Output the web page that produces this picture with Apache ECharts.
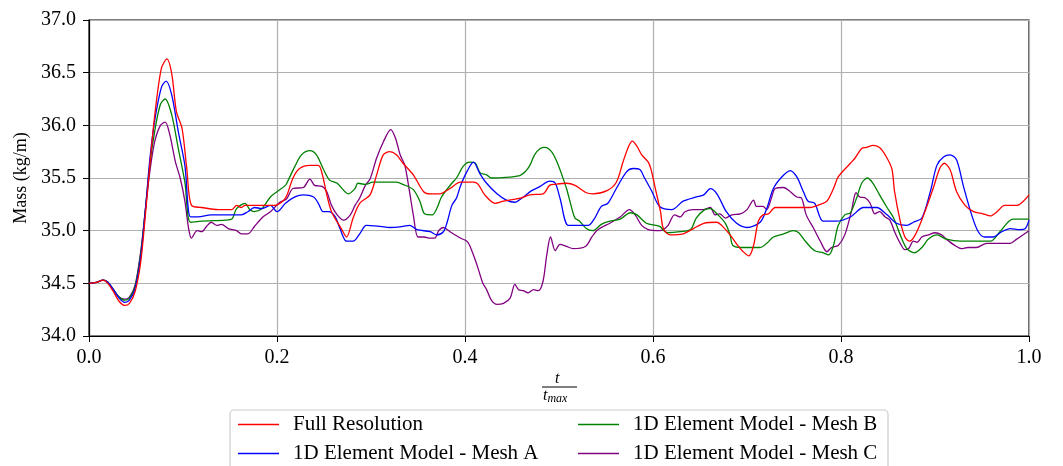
<!DOCTYPE html>
<html>
<head>
<meta charset="utf-8">
<script src="https://cdn.jsdelivr.net/npm/echarts@6/dist/echarts.min.js"></script>
<style>
  html, body { margin: 0; padding: 0; background: #fff; }
  #chart { width: 1063px; height: 466px; }
</style>
</head>
<body>
<div id="chart"></div>
<script>
// 数据: [t/tmax, mass]
var fullResolution = [
  [0,34.50],[0.008,34.51],[0.015,34.53],[0.020,34.50],[0.026,34.42],[0.032,34.33],[0.038,34.29],[0.043,34.31],
  [0.049,34.42],[0.055,34.70],[0.060,35.15],[0.065,35.65],[0.070,36.10],[0.077,36.54],[0.083,36.63],[0.088,36.49],
  [0.093,36.13],[0.099,35.97],[0.104,35.59],[0.109,35.24],[0.120,35.22],[0.138,35.20],[0.152,35.20],[0.157,35.24],
  [0.162,35.22],[0.166,35.24],[0.198,35.24],[0.209,35.31],[0.217,35.50],[0.224,35.59],[0.235,35.62],[0.244,35.62],
  [0.248,35.54],[0.253,35.34],[0.258,35.18],[0.269,35.01],[0.274,34.94],[0.281,35.12],[0.288,35.26],[0.299,35.34],
  [0.306,35.53],[0.313,35.72],[0.320,35.75],[0.327,35.72],[0.334,35.64],[0.345,35.53],[0.356,35.37],[0.363,35.35],
  [0.373,35.35],[0.384,35.40],[0.395,35.46],[0.409,35.46],[0.414,35.44],[0.421,35.34],[0.432,35.26],[0.441,35.28],
  [0.459,35.31],[0.469,35.34],[0.483,35.35],[0.490,35.43],[0.496,35.44],[0.508,35.45],[0.517,35.43],[0.529,35.36],
  [0.536,35.35],[0.551,35.38],[0.561,35.46],[0.568,35.65],[0.574,35.80],[0.578,35.85],[0.583,35.80],[0.588,35.72],
  [0.595,35.65],[0.598,35.58],[0.603,35.38],[0.608,35.18],[0.611,35.02],[0.618,34.96],[0.632,34.97],[0.643,35.02],
  [0.654,35.07],[0.668,35.08],[0.673,35.05],[0.682,34.96],[0.691,34.85],[0.696,34.80],[0.702,34.76],[0.707,34.86],
  [0.712,35.09],[0.717,35.15],[0.723,35.16],[0.730,35.22],[0.746,35.22],[0.767,35.22],[0.778,35.25],[0.785,35.28],
  [0.792,35.40],[0.797,35.51],[0.810,35.64],[0.815,35.69],[0.822,35.78],[0.827,35.79],[0.834,35.81],[0.841,35.79],
  [0.847,35.72],[0.854,35.59],[0.857,35.37],[0.863,35.09],[0.868,34.94],[0.873,34.90],[0.879,34.96],[0.888,35.15],
  [0.898,35.40],[0.905,35.59],[0.910,35.64],[0.916,35.58],[0.923,35.37],[0.932,35.24],[0.941,35.18],[0.951,35.16],
  [0.959,35.14],[0.966,35.18],[0.974,35.24],[0.987,35.24],[0.994,35.28],[1.0,35.34]
];
var meshA = [
  [0,34.50],[0.008,34.51],[0.015,34.53],[0.020,34.51],[0.026,34.44],[0.032,34.36],[0.038,34.32],[0.043,34.34],
  [0.049,34.45],[0.055,34.75],[0.060,35.20],[0.065,35.70],[0.070,36.05],[0.077,36.36],[0.082,36.42],[0.088,36.29],
  [0.095,35.94],[0.102,35.62],[0.108,35.13],[0.116,35.13],[0.130,35.15],[0.162,35.15],[0.169,35.18],[0.176,35.22],
  [0.184,35.21],[0.193,35.24],[0.200,35.18],[0.209,35.26],[0.219,35.32],[0.228,35.34],[0.239,35.32],[0.244,35.26],
  [0.249,35.18],[0.255,35.18],[0.262,35.13],[0.267,35.02],[0.274,34.90],[0.281,34.90],[0.288,34.97],[0.295,35.05],
  [0.310,35.04],[0.320,35.03],[0.334,35.04],[0.341,35.05],[0.349,35.01],[0.363,34.99],[0.370,34.96],[0.377,34.99],
  [0.381,35.08],[0.386,35.24],[0.391,35.31],[0.395,35.42],[0.402,35.56],[0.409,35.65],[0.416,35.54],[0.423,35.45],
  [0.434,35.35],[0.444,35.29],[0.453,35.27],[0.462,35.32],[0.471,35.38],[0.480,35.42],[0.490,35.47],[0.496,35.45],
  [0.501,35.31],[0.510,35.05],[0.522,35.05],[0.531,35.05],[0.538,35.12],[0.545,35.23],[0.552,35.26],[0.561,35.40],
  [0.572,35.56],[0.579,35.59],[0.586,35.58],[0.591,35.50],[0.599,35.37],[0.607,35.23],[0.620,35.20],[0.632,35.28],
  [0.646,35.32],[0.654,35.34],[0.661,35.40],[0.668,35.35],[0.678,35.18],[0.689,35.07],[0.700,35.03],[0.714,35.08],
  [0.721,35.21],[0.728,35.40],[0.737,35.51],[0.746,35.57],[0.753,35.51],[0.760,35.37],[0.765,35.28],[0.772,35.26],
  [0.781,35.09],[0.795,35.09],[0.810,35.13],[0.824,35.22],[0.838,35.22],[0.849,35.15],[0.859,35.07],[0.870,35.05],
  [0.877,35.08],[0.886,35.12],[0.895,35.37],[0.902,35.62],[0.909,35.70],[0.916,35.72],[0.923,35.67],[0.930,35.43],
  [0.939,35.15],[0.946,34.99],[0.953,34.94],[0.962,34.94],[0.971,34.99],[0.980,35.02],[0.990,35.01],[0.996,35.02],
  [1.0,35.10]
];
var meshB = [
  [0,34.50],[0.008,34.51],[0.015,34.53],[0.020,34.51],[0.026,34.44],[0.032,34.37],[0.038,34.34],[0.043,34.36],
  [0.049,34.47],[0.055,34.78],[0.060,35.20],[0.065,35.65],[0.070,35.95],[0.076,36.20],[0.081,36.25],[0.088,36.10],
  [0.095,35.78],[0.102,35.46],[0.108,35.08],[0.120,35.09],[0.145,35.10],[0.152,35.11],[0.157,35.21],[0.166,35.26],
  [0.171,35.20],[0.176,35.18],[0.184,35.21],[0.193,35.32],[0.200,35.37],[0.209,35.43],[0.212,35.48],[0.219,35.61],
  [0.226,35.72],[0.235,35.76],[0.242,35.72],[0.249,35.59],[0.256,35.48],[0.264,35.45],[0.276,35.35],[0.283,35.40],
  [0.286,35.45],[0.294,35.44],[0.302,35.46],[0.327,35.46],[0.334,35.44],[0.345,35.39],[0.352,35.28],[0.357,35.16],
  [0.365,35.15],[0.370,35.21],[0.375,35.32],[0.386,35.45],[0.391,35.50],[0.398,35.61],[0.405,35.65],[0.411,35.64],
  [0.416,35.55],[0.423,35.53],[0.428,35.50],[0.457,35.52],[0.464,35.56],[0.469,35.62],[0.474,35.72],[0.480,35.78],
  [0.485,35.79],[0.492,35.75],[0.498,35.65],[0.503,35.53],[0.508,35.40],[0.514,35.20],[0.517,35.12],[0.522,35.09],
  [0.529,35.02],[0.536,35.00],[0.545,35.06],[0.554,35.09],[0.565,35.11],[0.576,35.17],[0.583,35.15],[0.593,35.07],
  [0.607,35.04],[0.615,34.98],[0.629,34.99],[0.640,35.01],[0.646,35.12],[0.655,35.20],[0.661,35.21],[0.668,35.16],
  [0.677,35.07],[0.682,34.96],[0.685,34.86],[0.696,34.84],[0.714,34.84],[0.721,34.88],[0.728,34.94],[0.739,34.97],
  [0.749,35.00],[0.755,34.98],[0.763,34.89],[0.772,34.81],[0.781,34.79],[0.787,34.77],[0.792,34.86],[0.797,35.05],
  [0.804,35.15],[0.810,35.17],[0.817,35.32],[0.822,35.45],[0.828,35.50],[0.834,35.45],[0.841,35.34],[0.849,35.22],
  [0.856,35.12],[0.863,34.96],[0.870,34.83],[0.878,34.79],[0.886,34.84],[0.893,34.92],[0.902,34.96],[0.912,34.92],
  [0.927,34.90],[0.959,34.90],[0.969,34.99],[0.983,35.11],[1.0,35.11]
];
var meshC = [
  [0,34.50],[0.008,34.51],[0.015,34.53],[0.020,34.51],[0.026,34.44],[0.032,34.37],[0.038,34.35],[0.043,34.37],
  [0.049,34.48],[0.055,34.80],[0.060,35.20],[0.065,35.58],[0.070,35.85],[0.076,36.00],[0.081,36.03],[0.086,35.91],
  [0.092,35.65],[0.097,35.50],[0.102,35.28],[0.106,35.02],[0.109,34.93],[0.115,35.00],[0.120,34.99],[0.125,35.04],
  [0.130,35.08],[0.136,35.05],[0.141,35.06],[0.148,35.02],[0.157,35.00],[0.162,34.97],[0.169,34.97],[0.176,35.04],
  [0.185,35.13],[0.193,35.18],[0.203,35.27],[0.210,35.30],[0.217,35.40],[0.228,35.41],[0.235,35.49],[0.240,35.43],
  [0.248,35.42],[0.253,35.37],[0.258,35.24],[0.264,35.15],[0.271,35.10],[0.278,35.15],[0.283,35.24],[0.288,35.31],
  [0.294,35.43],[0.299,35.49],[0.306,35.69],[0.313,35.84],[0.321,35.96],[0.326,35.88],[0.331,35.72],[0.336,35.62],
  [0.341,35.37],[0.345,35.15],[0.350,34.94],[0.356,34.94],[0.363,34.93],[0.368,34.93],[0.372,35.00],[0.377,35.03],
  [0.384,34.99],[0.395,34.93],[0.402,34.90],[0.405,34.86],[0.411,34.72],[0.414,34.64],[0.419,34.50],[0.423,34.44],
  [0.428,34.34],[0.434,34.30],[0.441,34.31],[0.448,34.36],[0.453,34.49],[0.457,34.44],[0.462,34.43],[0.467,34.41],
  [0.473,34.44],[0.478,34.43],[0.483,34.52],[0.487,34.77],[0.491,34.94],[0.496,34.81],[0.501,34.87],[0.508,34.85],
  [0.515,34.83],[0.528,34.85],[0.535,34.94],[0.540,35.00],[0.547,35.04],[0.554,35.07],[0.565,35.13],[0.575,35.20],
  [0.581,35.15],[0.588,35.05],[0.595,35.01],[0.607,35.00],[0.611,35.01],[0.616,35.05],[0.623,35.15],[0.629,35.13],
  [0.634,35.18],[0.643,35.20],[0.654,35.20],[0.661,35.22],[0.666,35.15],[0.671,35.16],[0.677,35.12],[0.684,35.15],
  [0.693,35.16],[0.700,35.20],[0.707,35.29],[0.710,35.23],[0.717,35.23],[0.721,35.20],[0.726,35.31],[0.730,35.40],
  [0.739,35.41],[0.746,35.37],[0.753,35.32],[0.758,35.31],[0.763,35.15],[0.771,35.02],[0.778,34.90],[0.785,34.80],
  [0.790,34.84],[0.797,34.86],[0.804,34.96],[0.811,35.18],[0.816,35.36],[0.820,35.32],[0.826,35.31],[0.831,35.26],
  [0.836,35.16],[0.841,35.18],[0.847,35.13],[0.852,35.10],[0.857,34.99],[0.863,34.88],[0.868,34.82],[0.872,34.83],
  [0.877,34.90],[0.881,34.89],[0.886,34.94],[0.893,34.96],[0.900,34.98],[0.907,34.96],[0.912,34.92],[0.921,34.86],
  [0.928,34.83],[0.935,34.84],[0.944,34.84],[0.955,34.88],[0.966,34.88],[0.980,34.88],[0.987,34.92],[1.0,35.00]
];
var seriesNames = ['Full Resolution', '1D Element Model - Mesh A', '1D Element Model - Mesh B', '1D Element Model - Mesh C'];
var seriesColors = ['#ff0000', '#0000ff', '#008000', '#800080'];
var seriesData = [fullResolution, meshA, meshB, meshC];

(function() {
    var serif = 'Liberation Serif, DejaVu Serif, serif';

    var series = [];
    for (var i = 0; i < seriesData.length; i++) {
        series.push({
            type: 'line',
            name: seriesNames[i],
            data: seriesData[i],
            smooth: 0.3,
            showSymbol: false,
            symbol: 'none',
            lineStyle: { color: seriesColors[i], width: 1.3 },
            itemStyle: { color: seriesColors[i] },
            z: 10 - i
        });
    }

    // 图例: 每项单独放, 两列两行
    var makeLegend = function(left, top, name) {
        return {
            orient: 'horizontal',
            left: left,
            top: top,
            padding: 0,
            data: [name],
            icon: 'rect',
            itemWidth: 41,
            itemHeight: 1.5,
            itemGap: 0,
            textStyle: {
                fontFamily: serif, fontSize: 21, color: '#000', lineHeight: 20,
                padding: [0, 0, 0, 9]
            },
            selectedMode: false
        };
    };

    var option = {
        animation: false,
        backgroundColor: '#fff',
        grid: {
            left: 89, right: 34, top: 20, bottom: 130,
            show: true, borderColor: '#000', borderWidth: 1.2
        },
        legend: [
            makeLegend(238, 414, seriesNames[0]),
            makeLegend(238, 443, seriesNames[1]),
            makeLegend(578, 414, seriesNames[2]),
            makeLegend(578, 443, seriesNames[3])
        ],
        xAxis: {
            type: 'value',
            min: 0, max: 1, interval: 0.2,
            axisLine: { show: true, onZero: false, lineStyle: { color: '#000', width: 1.2 } },
            axisTick: { show: true, length: 6, lineStyle: { color: '#000' } },
            axisLabel: {
                margin: 12, color: '#000', fontFamily: serif, fontSize: 20,
                formatter: function(v) { return v.toFixed(1); }
            },
            splitLine: { show: true, lineStyle: { color: '#b0b0b0', width: 1.2 } }
        },
        yAxis: {
            type: 'value',
            min: 34, max: 37, interval: 0.5,
            name: 'Mass (kg/m)',
            nameLocation: 'middle',
            nameGap: 58,
            nameTextStyle: { fontFamily: serif, fontSize: 18, color: '#000' },
            axisLine: { show: true, lineStyle: { color: '#000', width: 1.2 } },
            axisTick: { show: true, length: 6, lineStyle: { color: '#000' } },
            axisLabel: {
                margin: 13, color: '#000', fontFamily: serif, fontSize: 20,
                formatter: function(v) { return v.toFixed(1); }
            },
            splitLine: { show: true, lineStyle: { color: '#b0b0b0', width: 1.2 } }
        },
        graphic: [
            {
                type: 'text', left: 555, top: 371,
                style: { text: 't', font: 'italic 16px ' + serif, fill: '#000' }
            },
            {
                type: 'line', shape: { x1: 542, y1: 387, x2: 577, y2: 387 },
                style: { stroke: '#000', lineWidth: 1 }
            },
            {
                type: 'text', left: 543, top: 388,
                style: {
                    text: '{t|t}{s|max}',
                    rich: {
                        t: { font: 'italic 16px ' + serif, fill: '#000' },
                        s: { font: 'italic 12px ' + serif, fill: '#000', padding: [6, 0, 0, 0] }
                    }
                }
            },
            {
                type: 'rect', shape: { x: 230, y: 410, width: 658, height: 70, r: 4 },
                style: { fill: 'rgba(255,255,255,0.8)', stroke: '#cccccc', lineWidth: 1.2 },
                z: -1
            }
        ],
        series: series
    };

    var echart = echarts.init(document.getElementById('chart'));
    echart.setOption(option);
})();
</script>
</body>
</html>
